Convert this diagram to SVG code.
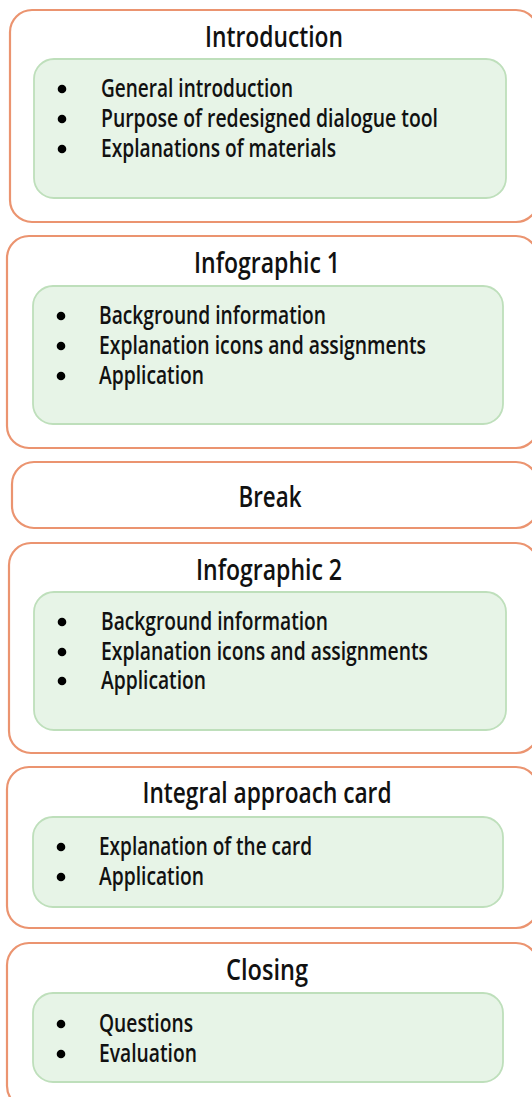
<svg xmlns="http://www.w3.org/2000/svg" width="532" height="1097" viewBox="0 0 532 1097">
  <style>
    .outer { fill: #ffffff; stroke: #EB9470; stroke-width: 2.2; }
    .inner { fill: #E7F4E7; stroke: #BEDFBB; stroke-width: 1.8; }
    .title { font-family: "Open Sans", "Liberation Sans", sans-serif; font-weight: 600; font-size: 28px; fill: #111111; text-anchor: middle; }
    .item { font-family: "Open Sans", "Liberation Sans", sans-serif; font-weight: 600; font-size: 25px; fill: #111111; }
    .dot { fill: #000000; }
  </style>
  <rect width="532" height="1097" fill="#ffffff"/>

  <!-- Introduction -->
  <g id="introduction">
    <rect class="outer" x="10" y="10" width="528" height="212" rx="22"/>
    <rect class="inner" x="34" y="59" width="472" height="139" rx="20"/>
    <text class="title" x="274" y="47" textLength="138" lengthAdjust="spacingAndGlyphs">Introduction</text>
    <circle class="dot" cx="62" cy="89" r="4.3"/>
    <circle class="dot" cx="62" cy="119" r="4.3"/>
    <circle class="dot" cx="62" cy="149" r="4.3"/>
    <text class="item" x="101" y="97" textLength="192" lengthAdjust="spacingAndGlyphs">General introduction</text>
    <text class="item" x="101" y="127" textLength="337" lengthAdjust="spacingAndGlyphs">Purpose of redesigned dialogue tool</text>
    <text class="item" x="101" y="157" textLength="235" lengthAdjust="spacingAndGlyphs">Explanations of materials</text>
  </g>

  <!-- Infographic 1 -->
  <g id="infographic-1">
    <rect class="outer" x="7" y="236" width="531" height="212" rx="22"/>
    <rect class="inner" x="33" y="286" width="470" height="138" rx="20"/>
    <text class="title" x="267" y="273" textLength="146" lengthAdjust="spacingAndGlyphs">Infographic 1</text>
    <circle class="dot" cx="61" cy="316" r="4.3"/>
    <circle class="dot" cx="61" cy="346" r="4.3"/>
    <circle class="dot" cx="61" cy="376" r="4.3"/>
    <text class="item" x="99" y="324" textLength="227" lengthAdjust="spacingAndGlyphs">Background information</text>
    <text class="item" x="99" y="354" textLength="327" lengthAdjust="spacingAndGlyphs">Explanation icons and assignments</text>
    <text class="item" x="99" y="384" textLength="105" lengthAdjust="spacingAndGlyphs">Application</text>
  </g>

  <!-- Break -->
  <g id="break">
    <rect class="outer" x="12" y="462" width="526" height="66" rx="22"/>
    <text class="title" x="270" y="507" textLength="63" lengthAdjust="spacingAndGlyphs">Break</text>
  </g>

  <!-- Infographic 2 -->
  <g id="infographic-2">
    <rect class="outer" x="9" y="543" width="529" height="210" rx="22"/>
    <rect class="inner" x="34" y="592" width="472" height="138" rx="20"/>
    <text class="title" x="269" y="580" textLength="146" lengthAdjust="spacingAndGlyphs">Infographic 2</text>
    <circle class="dot" cx="62" cy="622" r="4.3"/>
    <circle class="dot" cx="62" cy="652" r="4.3"/>
    <circle class="dot" cx="62" cy="681" r="4.3"/>
    <text class="item" x="101" y="630" textLength="227" lengthAdjust="spacingAndGlyphs">Background information</text>
    <text class="item" x="101" y="660" textLength="327" lengthAdjust="spacingAndGlyphs">Explanation icons and assignments</text>
    <text class="item" x="101" y="689" textLength="105" lengthAdjust="spacingAndGlyphs">Application</text>
  </g>

  <!-- Integral approach card -->
  <g id="integral-approach-card">
    <rect class="outer" x="7" y="767" width="531" height="161" rx="22"/>
    <rect class="inner" x="33" y="817" width="470" height="90" rx="20"/>
    <text class="title" x="267" y="803" textLength="249" lengthAdjust="spacingAndGlyphs">Integral approach card</text>
    <circle class="dot" cx="61" cy="847" r="4.3"/>
    <circle class="dot" cx="61" cy="877" r="4.3"/>
    <text class="item" x="99" y="855" textLength="213" lengthAdjust="spacingAndGlyphs">Explanation of the card</text>
    <text class="item" x="99" y="885" textLength="105" lengthAdjust="spacingAndGlyphs">Application</text>
  </g>

  <!-- Closing -->
  <g id="closing">
    <rect class="outer" x="7" y="943" width="531" height="165" rx="22"/>
    <rect class="inner" x="33" y="993" width="470" height="89" rx="20"/>
    <text class="title" x="267" y="980" textLength="82" lengthAdjust="spacingAndGlyphs">Closing</text>
    <circle class="dot" cx="61" cy="1024" r="4.3"/>
    <circle class="dot" cx="61" cy="1054" r="4.3"/>
    <text class="item" x="99" y="1032" textLength="94" lengthAdjust="spacingAndGlyphs">Questions</text>
    <text class="item" x="99" y="1062" textLength="98" lengthAdjust="spacingAndGlyphs">Evaluation</text>
  </g>

  <!-- no connectors between the stages -->
  <g id="connectors"/>
</svg>
